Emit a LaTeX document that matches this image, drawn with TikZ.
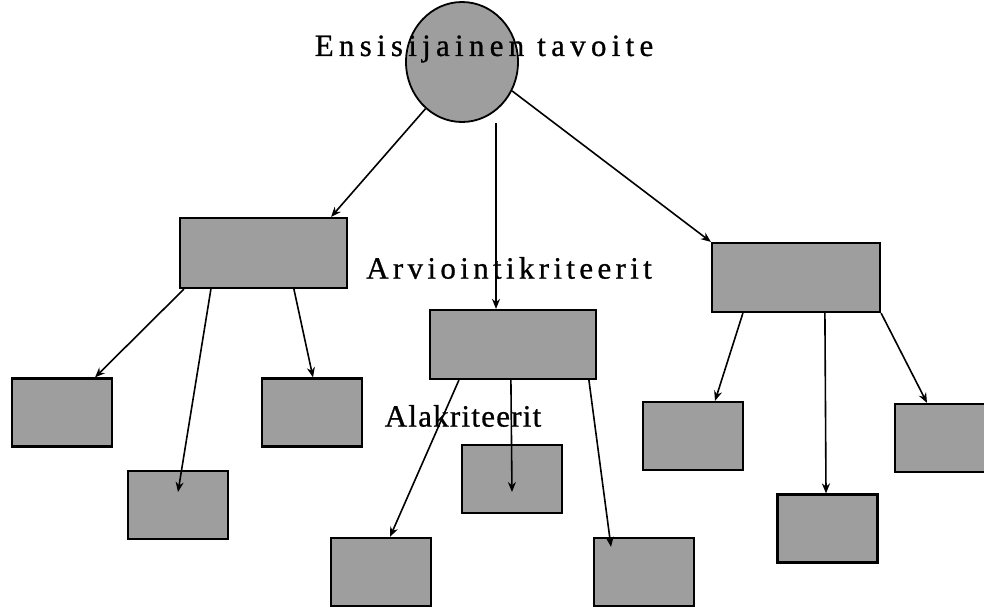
\documentclass[tikz,border=0pt]{standalone}
\usepackage{fontspec}
\setmainfont{Liberation Serif}
\usetikzlibrary{calc,shapes.geometric,arrows.meta}
\definecolor{shade}{HTML}{9E9E9E}
\tikzset{
  box/.style={draw=black, line width=2.2pt, fill=shade, inner sep=0pt},
  goalshape/.style={ellipse, draw=black, line width=1.8pt, fill=shade, inner sep=0pt},
  arr/.style={line width=1.6pt, -{Stealth[length=10pt,width=8pt]}},
  lbl/.style={inner sep=0pt},
}
\begin{document}
\begin{tikzpicture}[x=1pt,y=-1pt]
\useasboundingbox (0,0) rectangle (984,606);
\clip (0,0) rectangle (984,606);
% main goal
\node[goalshape, minimum width=112pt, minimum height=120pt] (goal) at (462,62) {};
% evaluation criteria
\node[box, minimum width=167pt, minimum height=70pt] (b1) at (263.5,253) {};
\node[box, minimum width=166pt, minimum height=69pt] (b2) at (513,344.5) {};
\node[box, minimum width=168pt, minimum height=69pt] (b3) at (796,277.5) {};
% sub-criteria
\foreach \n/\x/\y in {c1/62/412.5, c2/178/505, c3/312/412.5,
                      c4/381/572, c5/512/479, c6/644/572,
                      c7/693/436, c8/827.5/528.5, c9/945/438}
  \node[box, minimum width=100pt, minimum height=68pt] (\n) at (\x,\y) {};
% connectors from the goal
\draw[arr] (goal.232) -- ($(b1.north east)+(-17,0)$);
\draw[arr] (goal.south -| b2.north) ++(-17,0) coordinate (g2) -- (g2 |- b2.north);
\draw[arr] (goal.330) -- (b3.north west);
% connectors to the sub-criteria
\draw[arr] ($(b1.south west)+(5,0)$) -- ($(c1.north)+(33,0)$);
\draw[arr] ($(b1.south west)+(32,0)$) -- ($(c2.center)+(0,-13)$);
\draw[arr] ($(b1.south west)+(115,0)$) -- ($(c3.north)+(1,0)$);
\draw[arr] ($(b2.south west)+(30,0)$) -- ($(c4.north)+(9,0)$);
\draw[arr] ($(b2.south west)+(82,0)$) -- ($(c5.center)+(0,13)$);
\draw[arr] ($(b2.south west)+(160,0)$) -- ($(c6.north)+(-33,10)$);
\draw[arr] ($(b3.south west)+(32,0)$) -- ($(c7.north)+(22,0)$);
\draw[arr] ($(b3.south west)+(114,0)$) -- ($(c8.north)+(-1.5,0)$);
\draw[arr] (b3.south east) -- ($(c9.north)+(-18,0)$);
% labels
\node[lbl, font=\fontsize{31}{37}\selectfont\addfontfeatures{LetterSpace=17,FakeBold=0.8}] (tgoal) at (484,49) {Ensisijainen tavoite};
\node[lbl, font=\fontsize{31}{37}\selectfont\addfontfeatures{LetterSpace=14,FakeBold=0.8}] (tcrit) at (509,268) {Arviointikriteerit};
\node[lbl, font=\fontsize{31}{37}\selectfont\addfontfeatures{LetterSpace=4,FakeBold=0.8}] (tsub) at (463,416) {Alakriteerit};
\end{tikzpicture}
\end{document}
